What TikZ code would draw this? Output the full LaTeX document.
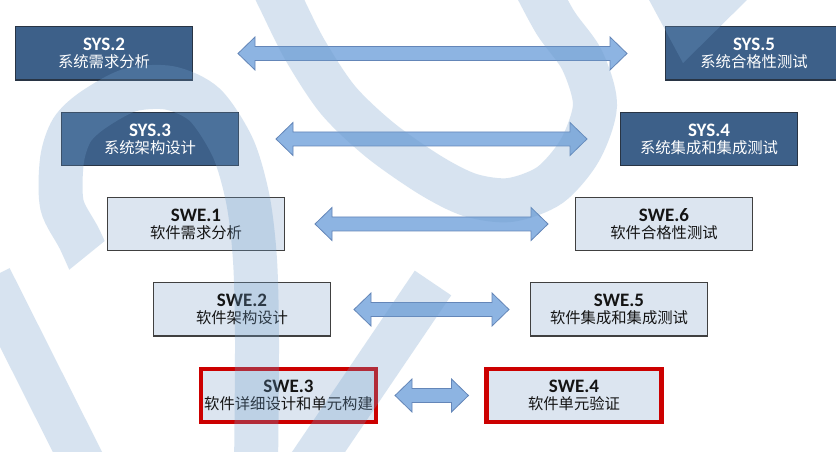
\documentclass[tikz,border=0pt]{standalone}
\usepackage{fontspec}
\setmainfont{Carlito}
\newfontfamily\cjk{Noto Sans CJK SC}
\usetikzlibrary{calc}
\definecolor{darkbox}{RGB}{61,96,137}
\definecolor{darkborder}{RGB}{40,52,68}
\definecolor{lightbox}{RGB}{220,229,240}
\definecolor{grayborder}{RGB}{64,64,64}
\definecolor{redborder}{RGB}{204,0,0}
\definecolor{arrowfill}{RGB}{141,180,226}
\definecolor{arrowline}{RGB}{100,134,184}
\definecolor{wmcolor}{RGB}{112,158,202}
\definecolor{textdark}{RGB}{20,20,20}
\tikzset{
  box/.style={rectangle, minimum width=132.4pt, minimum height=40.1pt, inner sep=0pt,
    align=center, line width=1.1pt, font=\fontsize{12pt}{12.75pt}\selectfont},
  sysbox/.style={box, fill=darkbox, draw=darkborder, text=white},
  swebox/.style={box, fill=lightbox, draw=grayborder, text=textdark},
  redbox/.style={box, fill=lightbox, draw=redborder, line width=3.1pt, minimum width=131.2pt, minimum height=39.8pt, text=textdark},
  arrowsty/.style={fill=arrowfill, draw=arrowline, line width=0.6pt, line join=miter},
  wm/.style={draw=wmcolor, line width=33pt, line cap=butt},
}
\newcommand\lbl[2]{{\fontsize{14.25pt}{12.75pt}\selectfont\bfseries #1}\\{\cjk\fontsize{11.5pt}{12.75pt}\selectfont #2}}
\newcommand\biarrow[2]{%
  \path[arrowsty] let \p1=(#1), \p2=(#2) in
    (\x1,\y1) -- (\x1+12.75pt,\y1+12.375pt) -- (\x1+12.75pt,\y1+5.25pt)
    -- (\x2-12.75pt,\y1+5.25pt) -- (\x2-12.75pt,\y1+12.375pt) -- (\x2,\y1)
    -- (\x2-12.75pt,\y1-12.375pt) -- (\x2-12.75pt,\y1-5.25pt)
    -- (\x1+12.75pt,\y1-5.25pt) -- (\x1+12.75pt,\y1-12.375pt) -- cycle;}
\begin{document}
\begin{tikzpicture}[x=0.75pt, y=-0.75pt]
\useasboundingbox (0,0) rectangle (836,452);
\clip (0,0) rectangle (836,452);
\fill[white] (0,0) rectangle (836,452);

% boxes
\node[sysbox] (sys2) at (104,53.5)  {\lbl{SYS.2}{系统需求分析}};
\node[sysbox] (sys3) at (150,139)   {\lbl{SYS.3}{系统架构设计}};
\node[swebox] (swe1) at (196,224)   {\lbl{SWE.1}{软件需求分析}};
\node[swebox] (swe2) at (242,309.5) {\lbl{SWE.2}{软件架构设计}};
\node[redbox] (swe3) at (288.5,395.5) {\lbl{SWE.3}{软件详细设计和单元构建}};
\node[redbox] (swe4) at (574,395.5) {\lbl{SWE.4}{软件单元验证}};
\node[swebox] (swe5) at (619,309.5) {\lbl{SWE.5}{软件集成和集成测试}};
\node[swebox] (swe6) at (664,224)   {\lbl{SWE.6}{软件合格性测试}};
\node[sysbox] (sys4) at (709,139)   {\lbl{SYS.4}{系统集成和集成测试}};
\node[sysbox] (sys5) at (754,53.5)  {\lbl{SYS.5}{系统合格性测试}};

% connector end points
\coordinate (a1l) at ($(sys2.east)+(45,0)$);
\coordinate (a1r) at ($(sys5.west)+(-38,0)$);
\coordinate (a2l) at ($(sys3.east)+(37,0)$);
\coordinate (a2r) at ($(sys4.west)+(-33,0)$);
\coordinate (a3l) at ($(swe1.east)+(30,0)$);
\coordinate (a3r) at ($(swe6.west)+(-27,0)$);
\coordinate (a4l) at ($(swe2.east)+(23,0)$);
\coordinate (a4r) at ($(swe5.west)+(-21,0)$);
\coordinate (a5l) at ($(swe3.east)+(17,0)$);
\coordinate (a5r) at ($(swe4.west)+(-16,0)$);

\biarrow{a1l}{a1r}
\biarrow{a2l}{a2r}
\biarrow{a3l}{a3r}
\biarrow{a4l}{a4r}
\biarrow{a5l}{a5r}

% watermark
\begin{scope}[transparency group, opacity=0.28]
  \draw[wm] (-10,278) -- (84,465);
  \begin{scope}
    \clip (-20,-20) -- (900,-20) -- (900,480) -- (180,480) -- (180,180) -- (-20,342) -- cycle;
    \draw[wm] plot[smooth] coordinates {(100,285) (80,240) (62,205) (62,160) (72,130) (93,110) (130,90) (170,88) (205,105) (233,148) (248,200) (255,260) (257,340) (256,470)};
  \end{scope}
  \draw[wm] plot[smooth] coordinates {(268,-25) (280,0) (305,50) (338,100) (380,140) (430,175) (470,195) (510,200) (550,185) (580,150) (595,105) (582,60) (555,22) (530,-25)};
  \draw[wm] (433,283) -- (305,472);
  \fill[wmcolor] (648,-2) -- (683,63) -- (749,-2) -- cycle;
\end{scope}
\end{tikzpicture}
\end{document}
